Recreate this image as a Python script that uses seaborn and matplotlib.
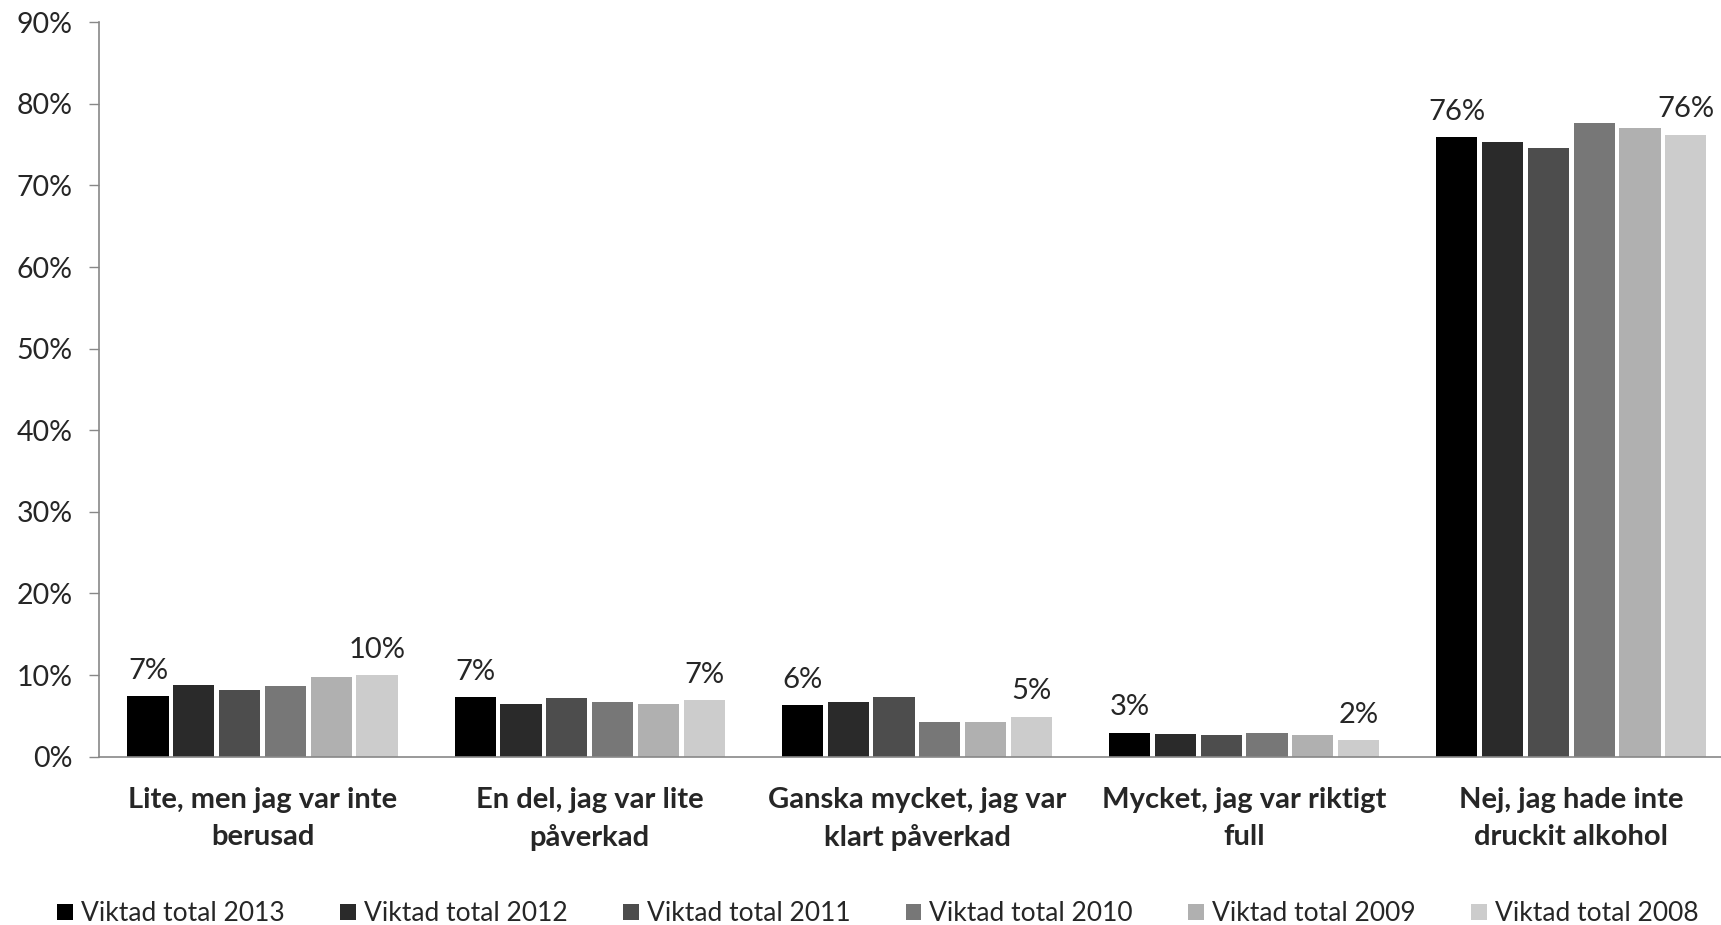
import matplotlib
matplotlib.use("Agg")
import matplotlib.pyplot as plt
import seaborn as sns
import pandas as pd
from matplotlib.ticker import FuncFormatter

categories = [
    "Lite, men jag var inte\nberusad",
    "En del, jag var lite\npåverkad",
    "Ganska mycket, jag var\nklart påverkad",
    "Mycket, jag var riktigt\nfull",
    "Nej, jag hade inte\ndruckit alkohol",
]
series = [
    "Viktad total 2013",
    "Viktad total 2012",
    "Viktad total 2011",
    "Viktad total 2010",
    "Viktad total 2009",
    "Viktad total 2008",
]
v2013 = [7.4, 7.3, 6.3, 2.9, 75.9]
v2012 = [8.8, 6.4, 6.7, 2.8, 75.3]
v2011 = [8.2, 7.2, 7.3, 2.6, 74.6]
v2010 = [8.6, 6.7, 4.2, 2.9, 77.6]
v2009 = [9.7, 6.5, 4.2, 2.6, 77.0]
v2008 = [10.0, 6.9, 4.9, 2.0, 76.2]
colors = ["#000000", "#2a2a2a", "#4d4d4d", "#777777", "#b0b0b0", "#cccccc"]
yticks = [0, 10, 20, 30, 40, 50, 60, 70, 80, 90]

values = [v2013, v2012, v2011, v2010, v2009, v2008]
rows = []
for s, vals in zip(series, values):
    for c, v in zip(categories, vals):
        rows.append({"category": c, "series": s, "value": v})
df = pd.DataFrame(rows)

sns.set_style("white")
plt.rcParams["font.family"] = ["Lato", "DejaVu Sans"]

fig = plt.figure(figsize=(17.21, 9.25), dpi=100)
ax = fig.add_axes([0.0575, 0.182, 0.9506, 0.794])

sns.barplot(data=df, x="category", y="value", hue="series", palette=colors,
            order=categories, hue_order=series, width=0.84, gap=0.1,
            ax=ax, edgecolor="none", saturation=1, legend=True)

ax.set_ylim(0, 90)
ax.set_xlim(-0.5, 4.5)
ax.set_yticks(yticks)
ax.yaxis.set_major_formatter(FuncFormatter(lambda v, p: f"{v:.0f}%"))
ax.tick_params(axis="y", labelsize=20.5, length=7, width=1, color="#888888", left=True, pad=12)
ax.tick_params(axis="x", labelsize=21, length=0, pad=22)
for lab in ax.get_xticklabels():
    lab.set_fontweight("bold")
    lab.set_linespacing(1.5)
ax.set_xlabel("")
ax.set_ylabel("")
for sp in ["top", "right"]:
    ax.spines[sp].set_visible(False)
for sp in ["left", "bottom"]:
    ax.spines[sp].set_color("#888888")
    ax.spines[sp].set_linewidth(1.2)

for idx in [0, len(ax.containers) - 1]:
    ax.bar_label(ax.containers[idx], fmt="%.0f%%", padding=9, fontsize=21)

handles, labels = ax.get_legend_handles_labels()
ax.get_legend().remove()
fig.legend(handles, labels, loc="center", bbox_to_anchor=(0.51, 0.012),
           bbox_transform=fig.transFigure, ncol=6, frameon=False, fontsize=19,
           handlelength=0.6, handleheight=0.6, handletextpad=0.3, columnspacing=2.1)

fig.savefig("out.png", dpi=100)
